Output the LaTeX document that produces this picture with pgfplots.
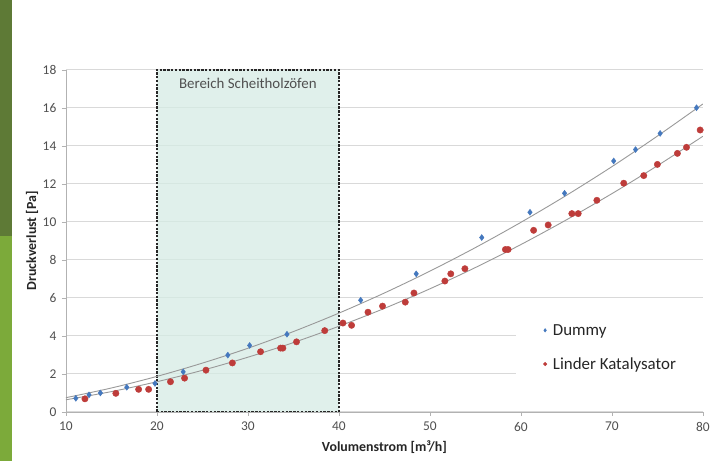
\documentclass[border=0pt]{standalone}
\usepackage{fontspec}
\setmainfont{Carlito}
\usepackage{pgfplots}
\pgfplotsset{compat=1.18}
\definecolor{dummyblue}{RGB}{68,120,190}
\definecolor{katred}{RGB}{190,60,58}
\definecolor{bardark}{RGB}{94,122,54}
\definecolor{barlight}{RGB}{124,170,58}
\definecolor{boxfill}{RGB}{214,236,229}
\definecolor{txtgray}{RGB}{80,80,80}
\begin{document}
\begin{tikzpicture}[x=1bp,y=1bp]
\fill[white] (0,0) rectangle (713,462);
\fill[barlight] (0,0) rectangle (12,225);
\fill[bardark] (0,225) rectangle (12,462);
\begin{axis}[
  at={(66bp,49bp)}, anchor=south west,
  scale only axis, width=639bp, height=343bp,
  xmin=10, xmax=80, ymin=0, ymax=18,
  xtick={10,20,...,80}, ytick={0,2,...,18},
  ymajorgrids, grid style={black!15, line width=0.8bp},
  axis x line*=bottom, axis y line*=left,
  axis line style={black!30}, tick style={black!30},
  tick align=outside, major tick length=4bp,
  /pgf/number format/assume math mode=true,
  ticklabel style={font=\fontsize{13.5}{14}\selectfont, text=txtgray},
  xticklabel style={yshift=-3bp},
  yticklabel style={xshift=-2bp},
  xlabel={\textbf{Volumenstrom [m³/h]}},
  ylabel={\textbf{Druckverlust [Pa]}},
  label style={font=\fontsize{14}{15}\selectfont, text=black!85},
  xlabel style={at={(axis description cs:0.5,-0.102)}, anchor=center},
  ylabel style={at={(axis description cs:-0.053,0.5)}, anchor=center},
  legend style={at={(0.707,0.28)}, anchor=north west, draw=none, fill=white,
    font=\fontsize{17}{18}\selectfont, text=black!85, row sep=17bp,
    inner xsep=27bp, inner ysep=6bp},
  legend cell align=left,
  legend image code/.code={\draw[#1, mark size=1.8bp] plot coordinates {(0cm,0cm)}; \path (0.2cm,0cm);},
]
\fill[boxfill, fill opacity=0.75] (axis cs:20,0) rectangle (axis cs:40,18);
\draw[black!85, line width=1.6bp, dash pattern=on 2.4bp off 1.4bp] (axis cs:20,0) rectangle (axis cs:40,18);
\node[font=\fontsize{15}{16}\selectfont, text=txtgray] at (axis cs:30,17.3) {Bereich Scheitholzöfen};

% trend lines
\addplot[black!40, line width=0.9bp, smooth, forget plot] coordinates {
(10,0.74)(15,1.25)(20,1.86)(25,2.56)(30,3.34)(35,4.22)(40,5.19)(45,6.25)(50,7.40)(55,8.64)(60,9.97)(65,11.39)(70,12.90)(75,14.51)(80,16.2)};
\addplot[black!40, line width=0.9bp, smooth, forget plot] coordinates {
(10,0.63)(15,1.06)(20,1.58)(25,2.18)(30,2.87)(35,3.64)(40,4.50)(45,5.44)(50,6.47)(55,7.59)(60,8.80)(65,10.10)(70,11.48)(75,12.95)(80,14.50)};

\addplot[only marks, mark=diamond*, mark size=3bp, color=dummyblue, mark options={fill=dummyblue}] coordinates {
(11.1,0.71)(12.55,0.89)(13.8,0.99)(16.7,1.29)(19.8,1.49)(22.9,2.10)(27.8,2.98)(30.2,3.49)(34.3,4.08)(42.4,5.87)(48.5,7.26)(55.7,9.17)(61.0,10.5)(64.8,11.5)(70.2,13.2)(72.6,13.8)(75.3,14.65)(79.3,16.0)};
\addlegendentry{Dummy}
\addplot[only marks, mark=*, mark size=3.2bp, color=katred, mark options={fill=katred}] coordinates {
(12.1,0.68)(15.5,0.97)(18.0,1.18)(19.1,1.18)(21.5,1.58)(23.05,1.77)(25.4,2.19)(28.3,2.57)(31.4,3.16)(33.6,3.35)(33.85,3.35)(35.35,3.68)(38.45,4.27)(40.45,4.67)(41.4,4.55)(43.2,5.24)(44.8,5.56)(47.3,5.77)(48.25,6.25)(51.65,6.88)(52.3,7.26)(53.85,7.53)(58.3,8.54)(58.6,8.54)(61.4,9.55)(63.0,9.83)(65.6,10.43)(66.3,10.43)(68.35,11.13)(71.3,12.03)(73.5,12.43)(75.0,13.02)(77.2,13.6)(78.2,13.92)(79.7,14.83)};
\addlegendentry{Linder Katalysator}
\end{axis}
\end{tikzpicture}
\end{document}
